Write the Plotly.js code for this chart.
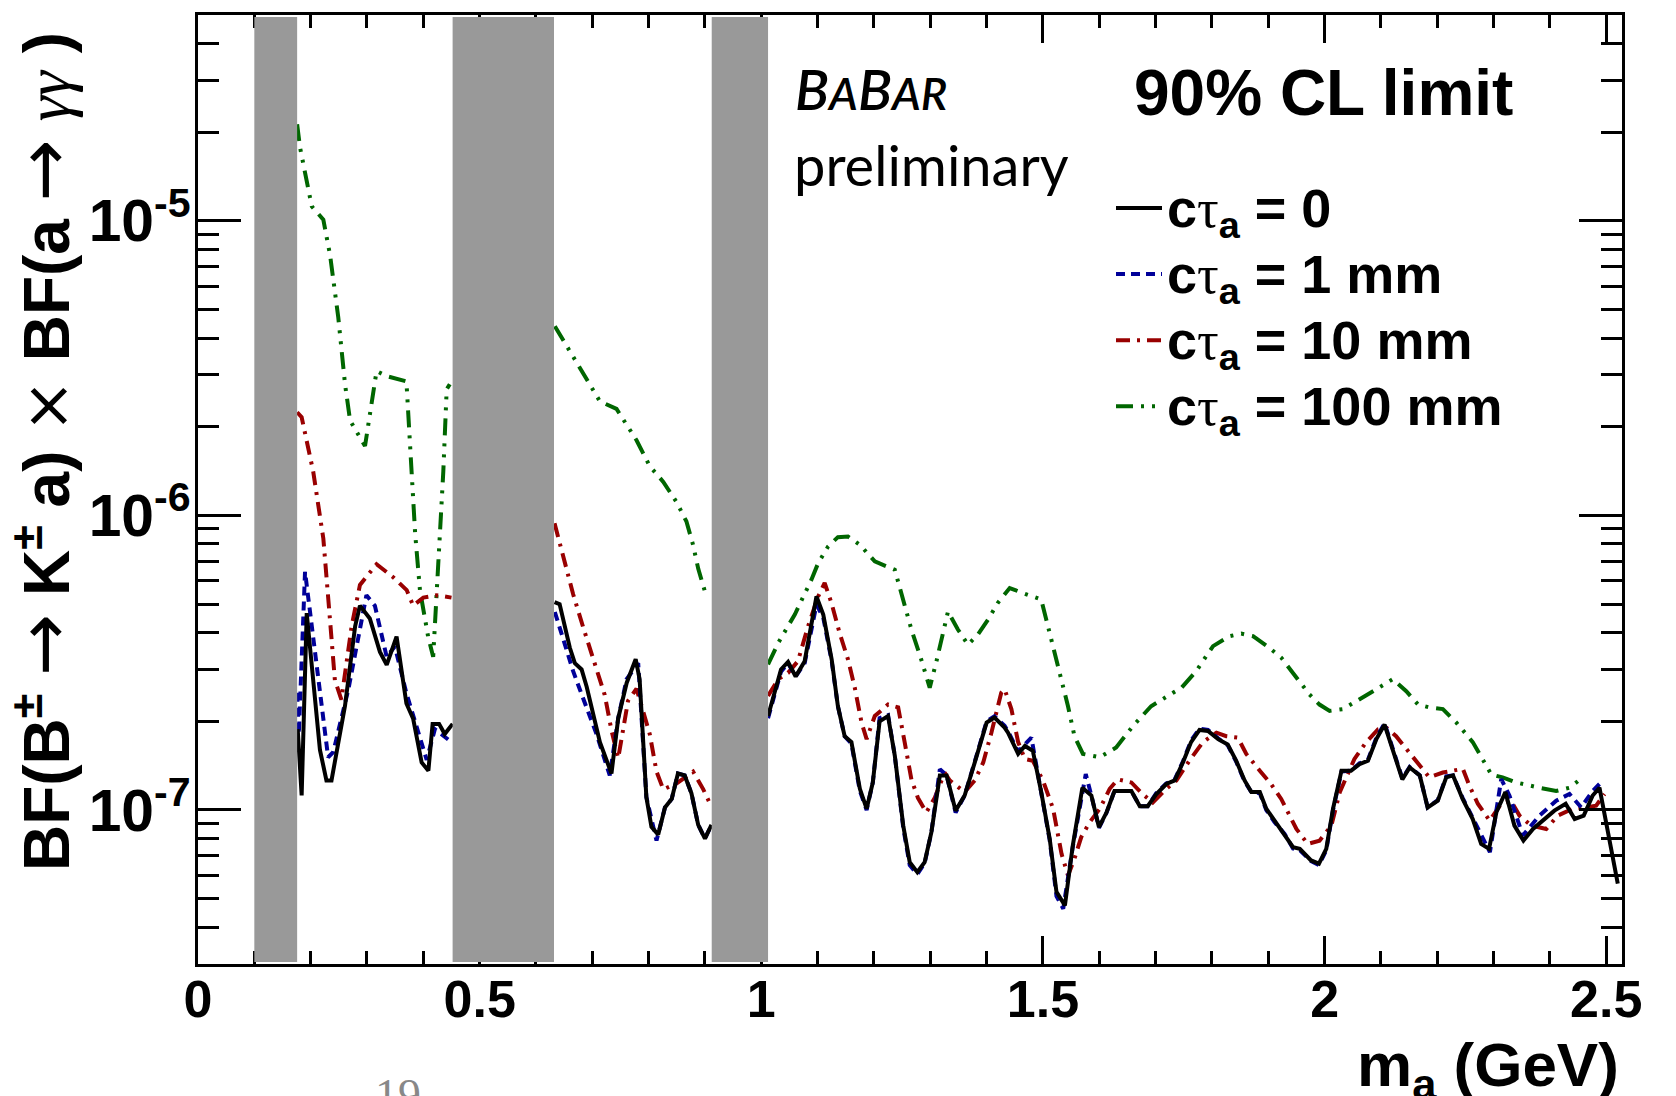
<!DOCTYPE html>
<html>
<head>
<meta charset="utf-8">
<script src="https://cdn.plot.ly/plotly-3.0.1.min.js"></script>
<style>
  html, body { margin: 0; padding: 0; background: #ffffff; }
  #chart { width: 1676px; height: 1096px; }
</style>
</head>
<body>
<div id="chart"></div>
<script>
// 90% CL upper limits on BF(B -> K a) x BF(a -> gamma gamma) vs. m_a (GeV).
// null entries split each curve at the vetoed mass windows.

const massCt0 = [
  0.177, 0.184, 0.193, 0.2165, 0.228, 0.237, 0.261, 0.279, 0.2875, 0.305, 0.323, 0.335, 0.3525, 0.370, 0.382, 0.397, 0.409, 0.4165, 0.428, 0.438, 0.452,
  0.54,
  0.633, 0.642, 0.660, 0.669, 0.681, 0.690, 0.7135, 0.734, 0.746, 0.761, 0.777, 0.784, 0.796, 0.805, 0.817, 0.829, 0.841, 0.852, 0.864, 0.876, 0.888, 0.900, 0.9115,
  0.96,
  1.012, 1.024, 1.035, 1.0475, 1.061, 1.077, 1.098, 1.110, 1.125, 1.136, 1.148, 1.160, 1.175, 1.187, 1.198, 1.210, 1.225, 1.237, 1.252, 1.2635, 1.277, 1.290, 1.302,
  1.317, 1.329, 1.345, 1.361, 1.379, 1.400, 1.414, 1.432, 1.438, 1.456, 1.468, 1.482, 1.497, 1.512, 1.524, 1.539, 1.553, 1.570, 1.586, 1.5995, 1.613, 1.627, 1.657,
  1.672, 1.686, 1.701, 1.719, 1.734, 1.7485, 1.763, 1.778, 1.793, 1.811, 1.828, 1.843, 1.858, 1.870, 1.885, 1.8965, 1.911, 1.929, 1.944, 1.956, 1.976, 1.990, 2.003,
  2.015, 2.030, 2.047, 2.062, 2.077, 2.092, 2.1065, 2.121, 2.138, 2.151, 2.169, 2.183, 2.201, 2.216, 2.228, 2.245, 2.263, 2.278, 2.292, 2.305, 2.321, 2.337, 2.353,
  2.370, 2.390, 2.408, 2.428, 2.444, 2.460, 2.476, 2.488, 2.5205
];
const limitCt0 = [
  1.88e-7, 1.12e-7, 4.66e-7, 1.60e-7, 1.26e-7, 1.26e-7, 2.26e-7, 4.21e-7, 4.94e-7, 4.47e-7, 3.44e-7, 3.11e-7, 3.88e-7, 2.30e-7, 2.04e-7, 1.45e-7, 1.36e-7, 1.96e-7, 1.96e-7, 1.81e-7, 1.96e-7,
  null,
  5.08e-7, 5.00e-7, 3.56e-7, 3.15e-7, 3.00e-7, 2.62e-7, 1.70e-7, 1.33e-7, 2.05e-7, 2.70e-7, 3.25e-7, 2.78e-7, 1.105e-7, 8.77e-8, 8.25e-8, 1.02e-7, 1.09e-7, 1.33e-7, 1.31e-7, 1.14e-7, 8.9e-8, 8.0e-8, 8.9e-8,
  null,
  2.085e-7, 2.50e-7, 3.00e-7, 3.18e-7, 2.84e-7, 3.20e-7, 5.31e-7, 4.61e-7, 3.24e-7, 2.25e-7, 1.78e-7, 1.70e-7, 1.18e-7, 1.01e-7, 1.24e-7, 2.00e-7, 2.085e-7, 1.53e-7, 8.85e-8, 6.65e-8, 6.15e-8, 6.65e-8, 8.41e-8,
  1.31e-7, 1.31e-7, 9.95e-8, 1.12e-7, 1.45e-7, 1.98e-7, 2.06e-7, 1.905e-7, 1.83e-7, 1.55e-7, 1.65e-7, 1.59e-7, 1.15e-7, 7.98e-8, 5.27e-8, 4.74e-8, 7.57e-8, 1.19e-7, 1.12e-7, 8.74e-8, 9.82e-8, 1.16e-7, 1.16e-7,
  1.03e-7, 1.03e-7, 1.13e-7, 1.225e-7, 1.26e-7, 1.45e-7, 1.70e-7, 1.87e-7, 1.855e-7, 1.74e-7, 1.67e-7, 1.47e-7, 1.26e-7, 1.15e-7, 1.15e-7, 1.01e-7, 9.2e-8, 8.3e-8, 7.48e-8, 7.38e-8, 6.74e-8, 6.57e-8, 7.38e-8,
  1.01e-7, 1.36e-7, 1.36e-7, 1.43e-7, 1.47e-7, 1.74e-7, 1.95e-7, 1.61e-7, 1.27e-7, 1.395e-7, 1.31e-7, 1.02e-7, 1.075e-7, 1.29e-7, 1.31e-7, 1.09e-7, 9.32e-8, 7.67e-8, 7.38e-8, 9.82e-8, 1.15e-7, 8.85e-8, 7.87e-8,
  8.62e-8, 9.32e-8, 9.95e-8, 1.05e-7, 9.32e-8, 9.57e-8, 1.12e-7, 1.19e-7, 5.62e-8
];

const massCt1 = [
  0.176, 0.179, 0.190, 0.231, 0.240, 0.267, 0.299, 0.314, 0.335, 0.3495, 0.370, 0.406, 0.4205, 0.450,
  0.54,
  0.6335, 0.648, 0.666, 0.684, 0.7075, 0.731, 0.746, 0.761, 0.7815, 0.796, 0.814, 0.829, 0.841, 0.852, 0.864, 0.876, 0.888, 0.900, 0.9115,
  0.96,
  1.012, 1.024, 1.035, 1.0475, 1.061, 1.077, 1.098, 1.110, 1.125, 1.136, 1.148, 1.160, 1.175, 1.187, 1.198, 1.210, 1.225, 1.237, 1.252, 1.2635, 1.277, 1.290, 1.302,
  1.317, 1.329, 1.345, 1.361, 1.379, 1.400, 1.414, 1.432, 1.438, 1.456, 1.4795, 1.497, 1.512, 1.524, 1.536, 1.553, 1.576, 1.586, 1.5995, 1.613, 1.627, 1.657,
  1.672, 1.686, 1.701, 1.719, 1.734, 1.7485, 1.763, 1.778, 1.793, 1.811, 1.828, 1.843, 1.858, 1.870, 1.885, 1.8965, 1.911, 1.929, 1.944, 1.956, 1.976, 1.990, 2.003,
  2.015, 2.030, 2.047, 2.062, 2.077, 2.092, 2.1065, 2.121, 2.138, 2.151, 2.169, 2.183, 2.201, 2.216, 2.228, 2.245, 2.263, 2.2935, 2.3136, 2.3283, 2.3519, 2.3815,
  2.4112, 2.4348, 2.4555, 2.4762, 2.488
];
const limitCt1 = [
  2.50e-7, 1.81e-7, 6.44e-7, 1.51e-7, 1.57e-7, 2.57e-7, 5.36e-7, 4.94e-7, 3.31e-7, 3.59e-7, 2.49e-7, 1.48e-7, 1.88e-7, 1.70e-7,
  null,
  4.70e-7, 3.79e-7, 2.96e-7, 2.385e-7, 1.81e-7, 1.31e-7, 2.05e-7, 2.78e-7, 3.15e-7, 1.105e-7, 7.87e-8, 1.02e-7, 1.09e-7, 1.33e-7, 1.31e-7, 1.14e-7, 8.9e-8, 8.0e-8, 8.9e-8,
  null,
  2.05e-7, 2.45e-7, 2.95e-7, 3.15e-7, 2.84e-7, 3.15e-7, 4.98e-7, 4.50e-7, 3.20e-7, 2.25e-7, 1.78e-7, 1.68e-7, 1.16e-7, 1.00e-7, 1.24e-7, 2.05e-7, 2.10e-7, 1.53e-7, 8.7e-8, 6.5e-8, 6.05e-8, 6.6e-8, 8.4e-8,
  1.376e-7, 1.31e-7, 9.8e-8, 1.12e-7, 1.46e-7, 2.00e-7, 2.08e-7, 1.93e-7, 1.85e-7, 1.58e-7, 1.76e-7, 1.16e-7, 7.9e-8, 5.1e-8, 4.62e-8, 7.5e-8, 1.324e-7, 1.12e-7, 8.7e-8, 9.8e-8, 1.16e-7, 1.16e-7,
  1.03e-7, 1.03e-7, 1.14e-7, 1.23e-7, 1.27e-7, 1.46e-7, 1.72e-7, 1.89e-7, 1.87e-7, 1.75e-7, 1.66e-7, 1.46e-7, 1.25e-7, 1.15e-7, 1.14e-7, 1.00e-7, 9.1e-8, 8.3e-8, 7.4e-8, 7.3e-8, 6.7e-8, 6.5e-8, 7.3e-8,
  1.00e-7, 1.35e-7, 1.36e-7, 1.44e-7, 1.48e-7, 1.76e-7, 1.97e-7, 1.63e-7, 1.28e-7, 1.40e-7, 1.31e-7, 1.02e-7, 1.08e-7, 1.30e-7, 1.31e-7, 1.10e-7, 9.4e-8, 7.19e-8, 1.273e-7, 1.118e-7, 8.19e-8, 9.57e-8,
  1.075e-7, 1.133e-7, 1.021e-7, 1.162e-7, 1.225e-7
];

const massCt10 = [
  0.176, 0.184, 0.2045, 0.2225, 0.233, 0.243, 0.2545, 0.2728, 0.2875, 0.317, 0.3465, 0.3705, 0.382, 0.400, 0.4235, 0.450,
  0.54,
  0.633, 0.648, 0.666, 0.684, 0.7015, 0.722, 0.734, 0.746, 0.7635, 0.7785, 0.802, 0.814, 0.826, 0.8495, 0.879, 0.897, 0.9085,
  0.96,
  1.012, 1.030, 1.0475, 1.065, 1.083, 1.101, 1.1125, 1.1245, 1.139, 1.154, 1.166, 1.178, 1.187, 1.2015, 1.225, 1.243, 1.2545, 1.2665, 1.278, 1.293, 1.308, 1.3255,
  1.3345, 1.361, 1.379, 1.394, 1.4085, 1.426, 1.432, 1.444, 1.456, 1.468, 1.482, 1.500, 1.518, 1.533, 1.5445, 1.556, 1.568, 1.583, 1.601, 1.6185, 1.633, 1.657,
  1.6775, 1.695, 1.719, 1.737, 1.760, 1.784, 1.808, 1.8255, 1.846, 1.861, 1.885, 1.905, 1.923, 1.950, 1.970, 1.991, 2.012, 2.027, 2.053, 2.074, 2.095, 2.1095,
  2.127, 2.148, 2.166, 2.186, 2.210, 2.2455, 2.257, 2.272, 2.293, 2.3135, 2.331, 2.346, 2.367, 2.3935, 2.414, 2.4405, 2.4645, 2.482, 2.497
];
const limitCt10 = [
  2.24e-6, 2.155e-6, 1.41e-6, 8.35e-7, 4.75e-7, 2.76e-7, 2.37e-7, 4.21e-7, 5.81e-7, 6.83e-7, 6.17e-7, 5.58e-7, 4.94e-7, 5.26e-7, 5.36e-7, 5.26e-7,
  null,
  9.40e-7, 7.24e-7, 5.40e-7, 4.16e-7, 3.25e-7, 2.46e-7, 1.865e-7, 1.50e-7, 2.35e-7, 2.58e-7, 1.81e-7, 1.35e-7, 1.175e-7, 1.23e-7, 1.35e-7, 1.175e-7, 1.056e-7,
  null,
  2.44e-7, 2.78e-7, 2.92e-7, 3.20e-7, 4.20e-7, 5.31e-7, 5.90e-7, 5.05e-7, 3.99e-7, 3.24e-7, 2.60e-7, 1.98e-7, 1.74e-7, 2.085e-7, 2.28e-7, 2.23e-7, 1.70e-7, 1.27e-7, 1.10e-7, 9.82e-8, 1.10e-7, 1.34e-7,
  1.26e-7, 1.15e-7, 1.26e-7, 1.45e-7, 1.83e-7, 2.50e-7, 2.57e-7, 2.20e-7, 1.70e-7, 1.49e-7, 1.47e-7, 1.26e-7, 1.01e-7, 7.1e-8, 5.99e-8, 6.83e-8, 8.09e-8, 9.09e-8, 1.01e-7, 1.18e-7, 1.27e-7, 1.24e-7,
  1.13e-7, 1.06e-7, 1.18e-7, 1.26e-7, 1.47e-7, 1.70e-7, 1.83e-7, 1.78e-7, 1.76e-7, 1.55e-7, 1.36e-7, 1.225e-7, 1.09e-7, 8.62e-8, 7.67e-8, 7.87e-8, 8.85e-8, 1.15e-7, 1.49e-7, 1.70e-7, 1.88e-7, 1.905e-7,
  1.78e-7, 1.59e-7, 1.43e-7, 1.29e-7, 1.34e-7, 1.38e-7, 1.21e-7, 1.05e-7, 9.2e-8, 1.05e-7, 1.075e-7, 9.57e-8, 8.85e-8, 8.62e-8, 9.57e-8, 1.01e-7, 1.02e-7, 1.034e-7, 1.133e-7
];

const massCt100 = [
  0.176, 0.181, 0.202, 0.2225, 0.2345, 0.249, 0.261, 0.270, 0.2965, 0.305, 0.317, 0.335, 0.370, 0.3855, 0.394, 0.4085, 0.4175, 0.4265, 0.4355, 0.4415, 0.447,
  0.54,
  0.6335, 0.648, 0.678, 0.7135, 0.743, 0.7785, 0.802, 0.826, 0.8495, 0.867, 0.879, 0.888, 0.902,
  0.96,
  1.012, 1.030, 1.0595, 1.089, 1.101, 1.1185, 1.136, 1.154, 1.175, 1.2015, 1.237, 1.249, 1.2665, 1.284, 1.299, 1.311, 1.3315, 1.349, 1.367, 1.3845, 1.4025, 1.420,
  1.441, 1.4645, 1.497, 1.509, 1.521, 1.533, 1.5445, 1.556, 1.571, 1.601, 1.630, 1.660, 1.692, 1.731, 1.746, 1.772, 1.802, 1.831, 1.852, 1.873, 1.902, 1.923,
  1.950, 1.973, 1.991, 2.009, 2.0325, 2.062, 2.086, 2.121, 2.145, 2.166, 2.186, 2.210, 2.234, 2.263, 2.284, 2.296, 2.316, 2.340, 2.3815, 2.411, 2.435, 2.458
];
const limitCt100 = [
  2.13e-5, 1.78e-5, 1.12e-5, 1.01e-5, 7.64e-6, 4.71e-6, 2.79e-6, 2.10e-6, 1.72e-6, 2.19e-6, 3.09e-6, 2.97e-6, 2.85e-6, 8.68e-7, 5.58e-7, 3.88e-7, 3.31e-7, 6.83e-7, 1.41e-6, 2.68e-6, 2.79e-6,
  null,
  4.39e-6, 3.94e-6, 3.18e-6, 2.44e-6, 2.30e-6, 1.80e-6, 1.47e-6, 1.30e-6, 1.11e-6, 9.55e-7, 7.93e-7, 6.60e-7, 5.35e-7,
  null,
  3.12e-7, 3.69e-7, 4.61e-7, 6.05e-7, 6.89e-7, 7.84e-7, 8.44e-7, 8.48e-7, 7.95e-7, 6.98e-7, 6.54e-7, 5.45e-7, 4.10e-7, 3.24e-7, 2.60e-7, 3.20e-7, 4.72e-7, 4.10e-7, 3.64e-7, 3.94e-7, 4.43e-7, 5.05e-7,
  5.67e-7, 5.45e-7, 5.18e-7, 4.20e-7, 3.42e-7, 2.78e-7, 2.25e-7, 1.78e-7, 1.55e-7, 1.51e-7, 1.63e-7, 1.93e-7, 2.25e-7, 2.50e-7, 2.60e-7, 2.96e-7, 3.60e-7, 3.89e-7, 3.97e-7, 3.89e-7, 3.55e-7, 3.29e-7,
  2.81e-7, 2.47e-7, 2.28e-7, 2.17e-7, 2.20e-7, 2.37e-7, 2.53e-7, 2.78e-7, 2.53e-7, 2.28e-7, 2.23e-7, 2.20e-7, 1.98e-7, 1.70e-7, 1.45e-7, 1.32e-7, 1.29e-7, 1.24e-7, 1.19e-7, 1.16e-7, 1.19e-7, 1.29e-7
];

// Vetoed mass windows (GeV)
const vetoStart = [0.100, 0.452, 0.912];
const vetoEnd   = [0.176, 0.632, 1.012];

// Legend labels
const TAU = '<span style="font-family:Liberation Serif;font-weight:normal">τ</span>';
const seriesNames = [
  '<span style="font-size:54px">c' + TAU + '<sub>a</sub> = 0</span>',
  '<span style="font-size:54px">c' + TAU + '<sub>a</sub> = 1 mm</span>',
  '<span style="font-size:54px">c' + TAU + '<sub>a</sub> = 10 mm</span>',
  '<span style="font-size:54px">c' + TAU + '<sub>a</sub> = 100 mm</span>'
];

// plot-area geometry helpers (pixels -> paper fractions)
const L = 198, T = 15, W = 1424, H = 949;
const px = p => (p - L) / W;
const py = p => (T + H - p) / H;

const SANS = 'Liberation Sans';
const SYM = (t, size) => '<span style="font-family:DejaVu Sans;font-weight:normal' +
  (size ? ';font-size:' + size + 'px' : '') + '">' + t + '</span>';

function curve(x, y, name, color, dash, rank) {
  return {
    type: 'scatter', mode: 'lines', x: x, y: y, name: name,
    line: { color: color, width: 4, dash: dash },
    connectgaps: false, legendrank: rank, hoverinfo: 'x+y'
  };
}

const traces = [
  curve(massCt100, limitCt100, seriesNames[3], '#006600', '17px,8px,3px,8px,3px,8px', 4),
  curve(massCt10,  limitCt10,  seriesNames[2], '#990000', '14px,7px,3px,7px', 3),
  curve(massCt1,   limitCt1,   seriesNames[1], '#000099', '9px,6px', 2),
  curve(massCt0,   limitCt0,   seriesNames[0], '#000000', 'solid', 1)
];

const shapes = vetoStart.map((x0, i) => ({
  type: 'rect', xref: 'x', yref: 'paper', x0: x0, x1: vetoEnd[i], y0: 0.002, y1: 0.998,
  fillcolor: '#999999', line: { width: 0 }, layer: 'above'
}));

const powLabels = {};
[-8, -7, -6, -5, -4].forEach(p => {
  powLabels['10<sup>\u2212' + Math.abs(p) + '</sup>'] = '10<sup>-' + Math.abs(p) + '</sup>';
});

const layout = {
  width: 1676, height: 1096,
  margin: { l: L, r: 1676 - L - W, t: T, b: 1096 - T - H, pad: 0 },
  paper_bgcolor: '#ffffff', plot_bgcolor: '#ffffff',
  showlegend: true,
  xaxis: {
    range: [0, 2.528], tick0: 0, dtick: 0.5,
    showgrid: false, zeroline: false,
    showline: true, linecolor: '#000', linewidth: 3, mirror: 'ticks',
    ticks: 'inside', ticklen: 28, tickwidth: 3, tickcolor: '#000',
    minor: { ticks: 'inside', ticklen: 13, tickwidth: 3, tickcolor: '#000', dtick: 0.1, showgrid: false },
    ticklabelstandoff: -12,
    tickfont: { family: SANS, size: 52, weight: 'bold', color: '#000' }
  },
  yaxis: {
    type: 'log', range: [Math.log10(3e-8), Math.log10(5e-5)],
    tick0: 0, dtick: 1, exponentformat: 'power', labelalias: powLabels,
    showgrid: false, zeroline: false,
    showline: true, linecolor: '#000', linewidth: 3, mirror: 'ticks',
    ticks: 'inside', ticklen: 43, tickwidth: 3, tickcolor: '#000',
    minor: { ticks: 'inside', ticklen: 21, tickwidth: 3, tickcolor: '#000', dtick: 'D1', showgrid: false },
    ticklabelstandoff: -5,
    tickfont: { family: SANS, size: 47, weight: 'bold', color: '#000' }
  },
  legend: {
    x: px(1111), y: py(170), xanchor: 'left', yanchor: 'top',
    bgcolor: 'rgba(0,0,0,0)', borderwidth: 0, itemwidth: 46,
    font: { family: SANS, size: 48.5, weight: 'bold', color: '#000' },
    tracegroupgap: 0
  },
  shapes: shapes,
  annotations: [
    {
      text: '<i>B<span style="font-size:45px">A</span>B<span style="font-size:45px">AR</span></i>',
      xref: 'paper', yref: 'paper', x: px(793), y: py(53), xanchor: 'left', yanchor: 'top',
      showarrow: false, font: { family: 'Lato', size: 56, weight: 600, color: '#000' }
    },
    {
      text: 'preliminary',
      xref: 'paper', yref: 'paper', x: px(792), y: py(129), xanchor: 'left', yanchor: 'top',
      showarrow: false, font: { family: 'Lato', size: 56, color: '#000' }
    },
    {
      text: '90% CL limit',
      xref: 'paper', yref: 'paper', x: px(1132), y: py(55), xanchor: 'left', yanchor: 'top',
      showarrow: false, font: { family: SANS, size: 64, weight: 'bold', color: '#000' }
    },
    {
      text: 'm<sub>a</sub> (GeV)',
      xref: 'paper', yref: 'paper', x: px(1621), y: py(1028), xanchor: 'right', yanchor: 'top',
      showarrow: false, font: { family: SANS, size: 62, weight: 'bold', color: '#000' }
    },
    {
      text: 'BF(B<sup>±</sup> ' + SYM('→', 74) + ' K<sup>±</sup> a) ' + SYM('×') + ' BF(a ' + SYM('→', 74) +
            ' <span style="font-family:Liberation Serif;font-style:italic;font-weight:normal">γγ</span> )',
      xref: 'paper', yref: 'paper', x: px(-2), y: py(452), xanchor: 'left', yanchor: 'middle',
      textangle: -90, showarrow: false,
      font: { family: SANS, size: 64, weight: 'bold', color: '#000' }
    },
    {
      text: '19',
      xref: 'paper', yref: 'paper', x: px(373), y: py(1068), xanchor: 'left', yanchor: 'top',
      showarrow: false, font: { family: 'Liberation Serif', size: 46, color: '#888888' }
    }
  ]
};

Plotly.newPlot('chart', traces, layout, { displayModeBar: false, staticPlot: true });
</script>
</body>
</html>
